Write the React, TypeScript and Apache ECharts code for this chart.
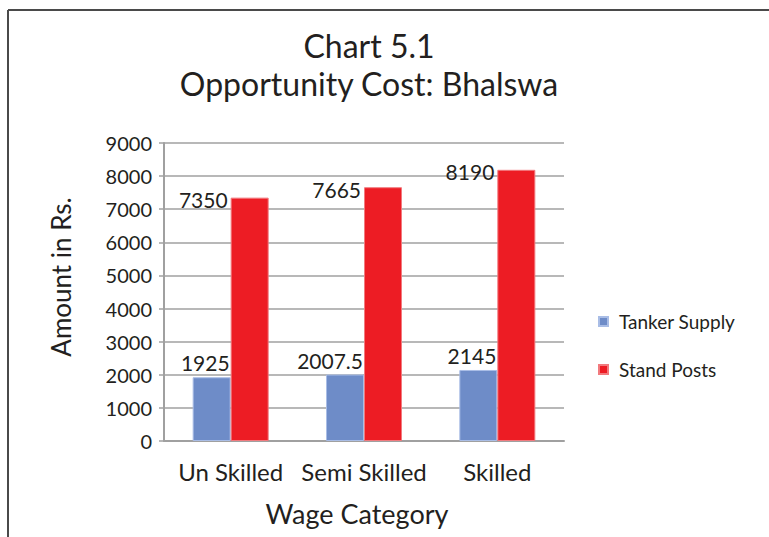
import React, { useEffect, useRef } from "react";
import * as echarts from "echarts";

const categories = ["Un Skilled", "Semi Skilled", "Skilled"];
const tankerSupply = [1925, 2007.5, 2145];
const standPosts = [7350, 7665, 8190];
const seriesNames = ["Tanker Supply", "Stand Posts"];
const titleLines = ["Chart 5.1", "Opportunity Cost: Bhalswa"];

const FONT = "Lato, 'Noto Sans', sans-serif";
const TEXT = "#231f20";

export default function App() {
  const ref = useRef<HTMLDivElement>(null);
  useEffect(() => {
    if (!ref.current) return;
    const chart = echarts.init(ref.current, undefined, { renderer: "svg" });
    chart.setOption({
      animation: false,
      backgroundColor: "#ffffff",
      textStyle: { fontFamily: FONT, color: TEXT },
      title: {
        text: titleLines.join("\n"),
        left: 364,
        textAlign: "center",
        top: 21,
        textStyle: { fontFamily: FONT, fontSize: 32, fontWeight: "normal", color: TEXT, lineHeight: 38 },
      },
      graphic: [
        { type: "line", shape: { x1: 8, y1: 10, x2: 769, y2: 10 }, style: { stroke: "#4a4a4a", lineWidth: 2 } },
        { type: "line", shape: { x1: 8, y1: 10, x2: 8, y2: 537 }, style: { stroke: "#4a4a4a", lineWidth: 2 } },
      ],
      legend: {
        orient: "vertical",
        left: 593,
        top: 307,
        itemWidth: 9,
        itemHeight: 9,
        itemGap: 29,
        icon: "rect",
        textStyle: { fontFamily: FONT, fontSize: 19, color: TEXT, padding: [0, 0, 0, 6] },
        data: seriesNames,
      },
      grid: { left: 164, right: 205, top: 143, bottom: 96, containLabel: false },
      xAxis: {
        type: "category",
        data: categories,
        name: "Wage Category",
        nameLocation: "middle",
        nameGap: 59,
        nameTextStyle: { fontFamily: FONT, fontSize: 27, color: TEXT, padding: [0, 14, 0, 0] },
        axisLine: { show: true, lineStyle: { color: "#a0a0a0", width: 2 } },
        axisTick: { show: false },
        axisLabel: { fontFamily: FONT, fontSize: 24, color: TEXT, margin: 18, interval: 0 },
      },
      yAxis: {
        type: "value",
        min: 0,
        max: 9000,
        interval: 1000,
        name: "Amount in Rs.",
        nameLocation: "middle",
        nameGap: 90,
        nameTextStyle: { fontFamily: FONT, fontSize: 26, color: TEXT, padding: [0, 0, 0, 30] },
        axisLine: { show: true, lineStyle: { color: "#a0a0a0", width: 2 } },
        axisTick: { show: true, inside: false, length: 5, lineStyle: { color: "#a0a0a0", width: 1.5 } },
        axisLabel: { fontFamily: FONT, fontSize: 20, color: TEXT, margin: 12, formatter: (v: number) => String(v) },
        splitLine: { show: true, lineStyle: { color: "#a0a0a0", width: 1.5 } },
      },
      series: [
        {
          name: seriesNames[0],
          type: "bar",
          data: tankerSupply,
          barWidth: 38,
          barGap: "0%",
          itemStyle: { color: "#6e8cc8", borderColor: "#a9bde6", borderWidth: 1 },
          label: {
            show: true,
            position: [37, -4],
            align: "right",
            verticalAlign: "bottom",
            fontFamily: FONT,
            fontSize: 21,
            color: TEXT,
          },
        },
        {
          name: seriesNames[1],
          type: "bar",
          data: standPosts,
          barWidth: 38,
          barGap: "0%",
          itemStyle: { color: "#ed1c24", borderColor: "#f27a7e", borderWidth: 1 },
          label: {
            show: true,
            position: [-3, 2],
            align: "right",
            verticalAlign: "middle",
            fontFamily: FONT,
            fontSize: 21,
            color: TEXT,
          },
        },
      ],
    });
    return () => chart.dispose();
  }, []);
  return <div ref={ref} style={{ width: 769, height: 537, position: "absolute", left: 0, top: 0 }} />;
}
